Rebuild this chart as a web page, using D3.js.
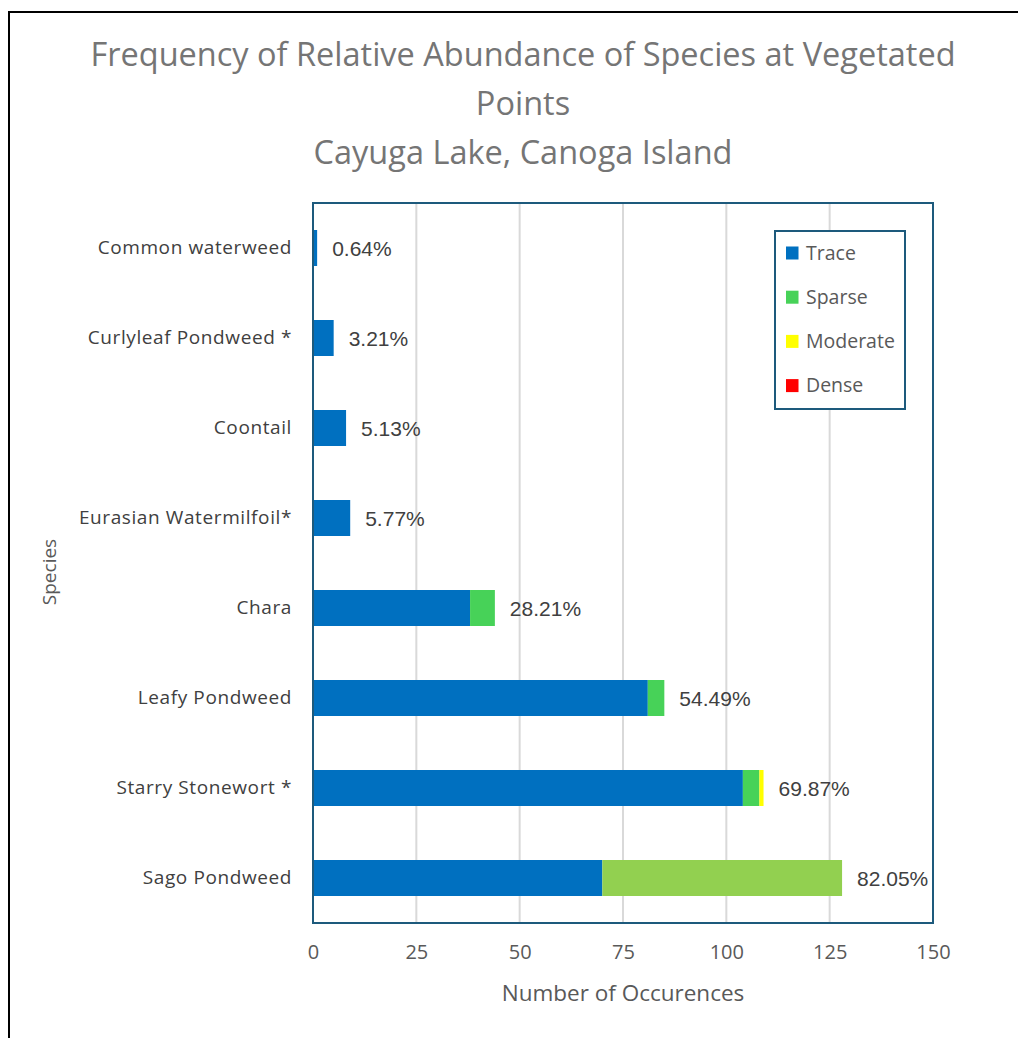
<!DOCTYPE html>
<html><head><meta charset="utf-8">
<script src="https://cdn.jsdelivr.net/npm/d3@7"></script>
<style>
html,body{margin:0;padding:0;background:#fff;}
svg{display:block;}
</style></head>
<body>
<svg id="chart" width="1018" height="1038"></svg>
<script>
const species = ["Common waterweed","Curlyleaf Pondweed *","Coontail","Eurasian Watermilfoil*","Chara","Leafy Pondweed","Starry Stonewort *","Sago Pondweed"];
const levels = ["Trace","Sparse","Moderate","Dense"];
const trace    = [1, 5, 8, 9, 38, 81, 104, 70];
const sparse   = [0, 0, 0, 0, 6, 4, 4, 58];
const moderate = [0, 0, 0, 0, 0, 0, 1, 0];
const dense    = [0, 0, 0, 0, 0, 0, 0, 0];
const pctLabels = ["0.64%","3.21%","5.13%","5.77%","28.21%","54.49%","69.87%","82.05%"];
const xTicks = [0,25,50,75,100,125,150];
const titleLines = ["Frequency of Relative Abundance of Species at Vegetated","Points","Cayuga Lake, Canoga Island"];

const colors = {Trace:"#0070c0",Sparse:"#47d258",Moderate:"#ffff00",Dense:"#ff0000"};
const sagoSparse = "#92d050";

const svg = d3.select("#chart");
// outer border
svg.append("rect").attr("x",9).attr("y",12).attr("width",1030).attr("height",1040)
  .attr("fill","none").attr("stroke","#000").attr("stroke-width",2);

const L=313,R=933,T=203,B=923;
const x = d3.scaleLinear().domain([0,150]).range([L,R]);
const y = d3.scaleBand().domain(species).range([T,B]).paddingInner(0.6).paddingOuter(0.3);

// title
svg.append("g").selectAll("text").data(titleLines).join("text")
  .attr("x",523).attr("y",(d,i)=>66+i*49)
  .attr("text-anchor","middle").attr("fill","#757575")
  .style("font-family","'Open Sans',sans-serif").style("font-size","32.5px")
  .text(d=>d);

// gridlines
svg.append("g").selectAll("line").data(xTicks.filter(t=>t>0&&t<150)).join("line")
  .attr("x1",d=>x(d)).attr("x2",d=>x(d)).attr("y1",T).attr("y2",B)
  .attr("stroke","#d9d9d9").attr("stroke-width",2);

const data = species.map((s,i)=>({species:s,Trace:trace[i],Sparse:sparse[i],Moderate:moderate[i],Dense:dense[i]}));
const stacked = d3.stack().keys(levels)(data);

svg.append("g").selectAll("g").data(stacked).join("g")
  .selectAll("rect").data(d=>d.map(v=>({v,key:d.key}))).join("rect")
  .attr("x",d=>x(d.v[0])).attr("width",d=>x(d.v[1])-x(d.v[0]))
  .attr("y",d=>y(d.v.data.species)).attr("height",y.bandwidth())
  .attr("fill",d=>(d.key==="Sparse"&&d.v.data.species==="Sago Pondweed")?sagoSparse:colors[d.key]);

// percentage labels
svg.append("g").selectAll("text").data(data).join("text")
  .attr("x",(d,i)=>x(trace[i]+sparse[i]+moderate[i]+dense[i])+15)
  .attr("y",d=>y(d.species)+y.bandwidth()/2)
  .attr("dy","0.36em").attr("fill","#404040")
  .style("font-family","'Liberation Sans',Arial,sans-serif").style("font-size","21px")
  .text((d,i)=>pctLabels[i]);

// frame
svg.append("rect").attr("x",L).attr("y",T).attr("width",R-L).attr("height",B-T)
  .attr("fill","none").attr("stroke","#1d5a7c").attr("stroke-width",2);

// x axis
const xAxis = svg.append("g").attr("transform",`translate(0,${B})`)
  .call(d3.axisBottom(x).tickValues(xTicks).tickSize(0).tickPadding(22));
xAxis.select(".domain").remove();
xAxis.selectAll("text").attr("fill","#595959")
  .style("font-family","'Open Sans',sans-serif").style("font-size","20px");

// y axis
const yAxis = svg.append("g").attr("transform",`translate(${L},0)`)
  .call(d3.axisLeft(y).tickSize(0).tickPadding(21));
yAxis.select(".domain").remove();
yAxis.selectAll("text").attr("fill","#404040")
  .style("font-family","'Open Sans',sans-serif").style("font-size","19px").style("letter-spacing","0.6px");

// axis titles
svg.append("text").attr("x",623).attr("y",1001).attr("text-anchor","middle")
  .attr("fill","#595959").style("font-family","'Open Sans',sans-serif").style("font-size","22.5px")
  .text("Number of Occurences");
svg.append("text").attr("transform",`translate(56,572) rotate(-90)`).attr("text-anchor","middle")
  .attr("fill","#595959").style("font-family","'Open Sans',sans-serif").style("font-size","19px")
  .text("Species");

// legend
const lg = svg.append("g");
lg.append("rect").attr("x",775).attr("y",231).attr("width",130).attr("height",178)
  .attr("fill","#fff").attr("stroke","#1d5a7c").attr("stroke-width",2);
const li = lg.selectAll("g").data(levels).join("g")
  .attr("transform",(d,i)=>`translate(786,${253+i*44.2})`);
li.append("rect").attr("x",0).attr("y",-6.5).attr("width",12.5).attr("height",13).attr("fill",d=>colors[d]);
li.append("text").attr("x",20).attr("dy","0.35em").attr("fill","#595959")
  .style("font-family","'Open Sans',sans-serif").style("font-size","19.5px").text(d=>d);
</script>
</body></html>
